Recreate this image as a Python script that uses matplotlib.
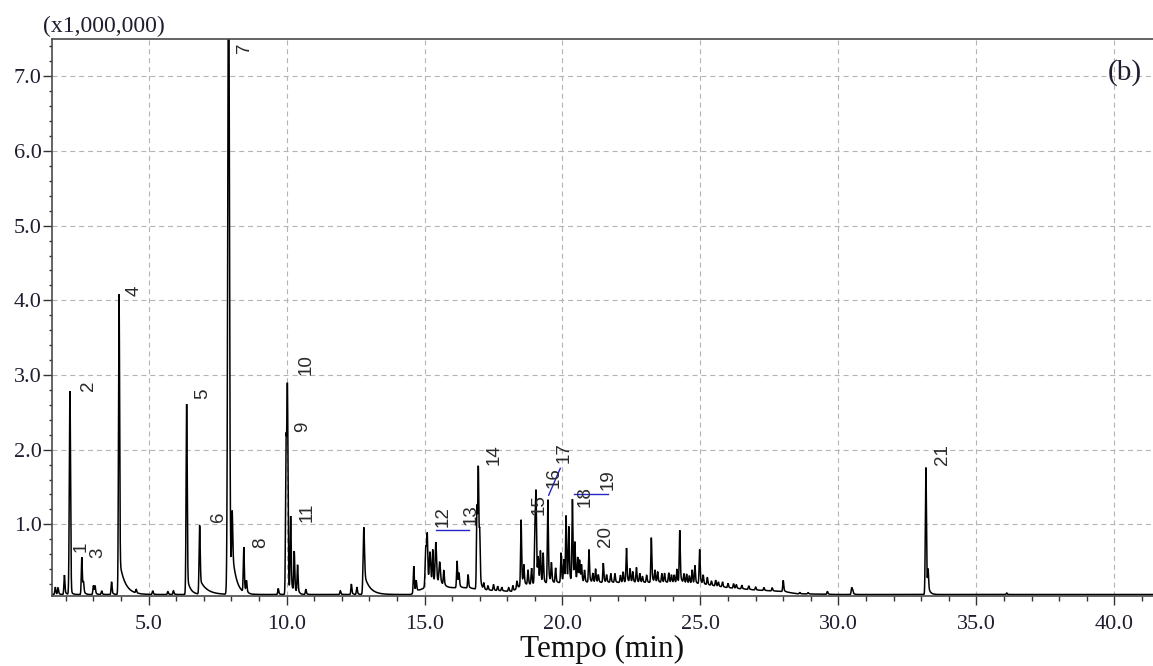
import numpy as np
import matplotlib
matplotlib.use("Agg")
import matplotlib.pyplot as plt
from matplotlib.ticker import MultipleLocator, FormatStrFormatter

# ---- Chromatogram peak table (retention time in min, apex height in 1e6 counts) ----
peak_rt = [
    1.62, 1.72, 1.95, 2.15, 2.58, 2.64, 3.00, 3.06, 3.30, 3.66, 3.93,
    4.55, 5.15, 5.70, 5.90, 6.38, 6.85, 7.90, 8.03, 8.45, 8.55, 9.70,
    9.98, 10.03, 10.15, 10.28, 10.40, 10.70, 11.95, 12.35, 12.55, 12.80,
    14.61, 14.70, 15.05, 15.10, 15.20, 15.30, 15.41, 15.55, 15.70, 16.18,
    16.25, 16.58, 16.90, 16.95, 17.00, 17.15, 17.30, 17.50, 17.65, 17.80,
    18.05, 18.20, 18.35, 18.50, 18.60, 18.75, 18.88, 19.00, 19.04, 19.12,
    19.20, 19.30, 19.47, 19.60, 19.75, 19.95, 20.05, 20.13, 20.23, 20.36,
    20.45, 20.55, 20.62, 20.69, 20.80, 20.96, 21.10, 21.20, 21.30, 21.48,
    21.60, 21.75, 21.90, 22.10, 22.20, 22.32, 22.45, 22.55, 22.68, 22.80,
    22.90, 23.05, 23.22, 23.35, 23.45, 23.60, 23.70, 23.85, 23.95, 24.05,
    24.15, 24.25, 24.40, 24.50, 24.60, 24.70, 24.80, 24.97, 25.10, 25.25,
    25.40, 25.55, 25.65, 25.80, 26.00, 26.20, 26.30, 26.50, 26.75, 27.00,
    27.30, 27.60, 28.00, 28.60, 28.90, 29.60, 30.48, 30.52, 33.17, 33.25,
    36.10,
]
peak_height = [
    0.10, 0.09, 0.26, 2.72, 0.50, 0.14, 0.12, 0.11, 0.05, 0.17, 4.02,
    0.05, 0.05, 0.04, 0.05, 2.55, 0.92, 8.80, 0.90, 0.60, 0.15, 0.08,
    1.90, 2.78, 1.00, 0.55, 0.38, 0.07, 0.05, 0.14, 0.10, 0.90,
    0.36, 0.14, 0.55, 0.58, 0.42, 0.45, 0.58, 0.30, 0.20, 0.36,
    0.18, 0.18, 1.10, 1.52, 0.70, 0.08, 0.06, 0.08, 0.06, 0.05,
    0.05, 0.08, 0.10, 0.88, 0.25, 0.20, 0.22, 0.78, 1.12, 0.30,
    0.42, 0.40, 1.12, 0.26, 0.20, 0.40, 0.30, 0.88, 0.72, 1.10,
    0.50, 0.32, 0.28, 0.22, 0.16, 0.44, 0.12, 0.18, 0.10, 0.26,
    0.10, 0.12, 0.12, 0.10, 0.14, 0.46, 0.18, 0.14, 0.20, 0.12,
    0.08, 0.10, 0.60, 0.16, 0.14, 0.12, 0.12, 0.13, 0.10, 0.10,
    0.18, 0.70, 0.12, 0.12, 0.10, 0.18, 0.24, 0.46, 0.12, 0.10,
    0.06, 0.08, 0.06, 0.07, 0.06, 0.06, 0.05, 0.05, 0.05, 0.04,
    0.04, 0.04, 0.15, 0.02, 0.02, 0.04, 0.09, 0.05, 1.70, 0.28,
    0.02,
]

# Peaks with a non-default shape: rt -> (sigma, tail tau, tail fraction)
peak_shape = {
    2.15: (0.022, 0.05, 0.04),
    3.93: (0.020, 0.20, 0.12),
    6.38: (0.020, 0.12, 0.10),
    6.85: (0.020, 0.25, 0.22),
    7.90: (0.030, 0.15, 0.06),
    8.03: (0.020, 0.15, 0.40),
    9.98: (0.018, 0.05, 0.02),
    10.03: (0.022, 0.10, 0.06),
    12.80: (0.025, 0.20, 0.32),
    15.05: (0.025, 0.10, 0.30),
    15.20: (0.025, 0.10, 0.30),
    15.41: (0.025, 0.10, 0.30),
    15.55: (0.025, 0.12, 0.30),
    16.95: (0.018, 0.05, 0.10),
    33.17: (0.020, 0.08, 0.10),
}

# Baseline level under the trace (min, 1e6 counts)
base_rt = [1.5, 14.5, 15.0, 16.5, 17.2, 18.2, 18.5, 20.0, 22.0, 24.0, 25.0,
           26.0, 27.0, 28.0, 28.5, 30.0, 41.5]
base_level = [0.06, 0.06, 0.15, 0.15, 0.12, 0.10, 0.18, 0.22, 0.22, 0.22, 0.20,
              0.15, 0.12, 0.10, 0.07, 0.06, 0.06]

# Peak numbering: text, label anchor (min, 1e6 counts)
label_text = [str(i) for i in range(1, 22)]
label_rt = [2.26, 2.51, 2.84, 4.18, 6.64, 7.22, 8.17, 8.74, 10.26, 10.40, 10.44,
            15.37, 16.38, 17.22, 18.85, 19.39, 19.75, 20.51, 21.35, 21.24, 33.48]
label_y = [0.63, 2.79, 0.55, 4.06, 2.68, 1.03, 7.31, 0.68, 2.24, 3.00, 1.03,
           0.96, 0.99, 1.79, 1.12, 1.49, 1.82, 1.23, 1.46, 0.70, 1.79]

# Leader lines for crowded labels: (rt0, y0, rt1, y1)
leaders = [
    (15.41, 0.92, 16.60, 0.92),
    (19.50, 1.39, 19.92, 1.75),
    (20.40, 1.41, 21.64, 1.41),
]

x_min, x_max = 1.5, 41.4
y_min, y_max = 0.04, 7.5


def trace(t):
    y = np.interp(t, base_rt, base_level)
    for rt, h in zip(peak_rt, peak_height):
        sig, tau, frac = peak_shape.get(rt, (0.018, 0.05, 0.25))
        g = np.exp(-0.5 * ((t - rt) / sig) ** 2)
        tail = np.where(t >= rt, np.exp(-np.clip(t - rt, 0, None) / tau), g)
        y = y + h * ((1 - frac) * g + frac * tail)
    return y


t = np.arange(x_min, x_max, 0.002)
signal = trace(t)

plt.rcParams["font.family"] = ["Liberation Serif", "DejaVu Serif"]

fig = plt.figure(figsize=(11.53, 6.66), dpi=100)
ax = fig.add_axes([52 / 1153, 70 / 666, 1 - 52 / 1153, (596 - 39) / 666])

ax.plot(t, signal, color="black", lw=1.1, solid_joinstyle="miter")

ax.set_xlim(x_min, x_max)
ax.set_ylim(y_min, y_max)

ax.xaxis.set_major_locator(MultipleLocator(5))
ax.xaxis.set_minor_locator(MultipleLocator(1))
ax.yaxis.set_major_locator(MultipleLocator(1))
ax.yaxis.set_minor_locator(MultipleLocator(0.2))
ax.xaxis.set_major_formatter(FormatStrFormatter("%.1f"))
ax.yaxis.set_major_formatter(FormatStrFormatter("%.1f"))

tick_color = "#1e1e30"
ax.tick_params(axis="x", which="major", direction="out", length=6.5, width=1.0,
               color="#333333", labelsize=16, labelcolor=tick_color, pad=7)
ax.tick_params(axis="x", which="minor", direction="out", length=3.5, width=1.0,
               color="#333333")
ax.tick_params(axis="y", which="major", direction="out", length=6.5, width=1.0,
               color="#333333", labelsize=16, labelcolor=tick_color, pad=1)
ax.tick_params(axis="y", which="minor", direction="out", length=2.5, width=1.0,
               color="#333333")

ax.grid(True, which="major", color="#b4b4b4", lw=0.8, linestyle=(0, (4.5, 3.5)))
ax.set_axisbelow(True)

for side in ("left", "bottom", "top"):
    ax.spines[side].set_color("#4a4a4a")
    ax.spines[side].set_linewidth(1.2)
ax.spines["right"].set_visible(False)

ax.set_xlabel("Tempo (min)", fontsize=22.5, color="#111111", labelpad=1)
ax.text(-0.008, 1.003, "(x1,000,000)", transform=ax.transAxes, fontsize=17,
        color="#1e1e30", ha="left", va="bottom")
ax.text(0.99, 0.94, "(b)", transform=ax.transAxes, fontsize=21,
        color="#1e1e30", ha="right", va="center")

for txt, rt, yv in zip(label_text, label_rt, label_y):
    ax.text(rt, yv, txt, rotation=90, ha="left", va="bottom", fontsize=13.5,
            family=["Liberation Sans", "DejaVu Sans"], color="#2a2a2a",
            clip_on=False)

for x0, y0, x1, y1 in leaders:
    ax.plot([x0, x1], [y0, y1], color="#2424c8", lw=1.0)

fig.savefig("out.png", dpi=100)
